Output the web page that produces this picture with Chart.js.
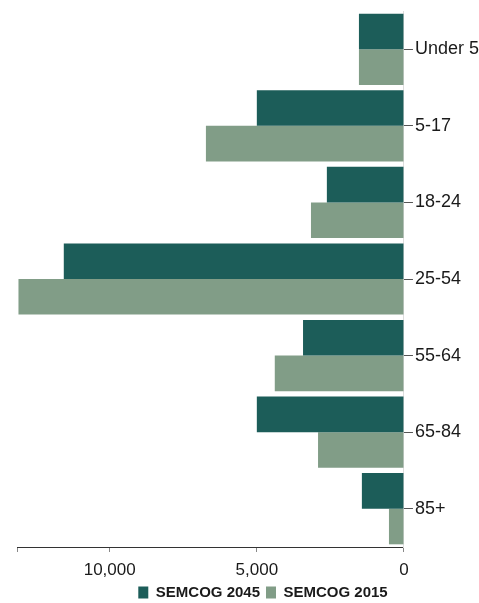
<!DOCTYPE html>
<html>
<head>
<meta charset="utf-8">
<script src="https://cdn.jsdelivr.net/npm/chart.js@4.4.1/dist/chart.umd.min.js"></script>
<style>
html,body{margin:0;padding:0;background:#fff;}
#wrap{width:479px;height:603px;position:relative;}
</style>
</head>
<body>
<div id="wrap"><canvas id="c"></canvas></div>
<script>
const categories = ["Under 5", "5-17", "18-24", "25-54", "55-64", "65-84", "85+"];
const semcog2045 = [1530, 5000, 2620, 11560, 3430, 5000, 1430];
const semcog2015 = [1530, 6730, 3160, 13100, 4390, 2920, 510];
const seriesNames = ["SEMCOG 2045", "SEMCOG 2015"];
const xTickValues = [0, 5000, 10000];

const FONT = "'Liberation Sans', Arial, sans-serif";

const legendShift = {
  id: 'legendShift',
  afterLayout(chart) {
    const lg = chart.legend;
    if (!lg) return;
    const dx = 14, dy = -10;
    lg.left += dx; lg.right += dx;
    lg.top += dy; lg.bottom += dy;
  }
};

new Chart(document.getElementById('c'), {
  type: 'bar',
  data: {
    labels: categories,
    datasets: [
      { label: seriesNames[0], data: semcog2045, backgroundColor: '#1c5d59', borderWidth: 0 },
      { label: seriesNames[1], data: semcog2015, backgroundColor: '#819d87', borderWidth: 0 }
    ]
  },
  options: {
    indexAxis: 'y',
    responsive: true,
    maintainAspectRatio: false,
    animation: false,
    layout: { padding: { top: 10, left: 17, right: -2, bottom: -17 } },
    datasets: { bar: { categoryPercentage: 0.93, barPercentage: 1.0 } },
    plugins: {
      tooltip: { enabled: false },
      legend: {
        position: 'bottom',
        labels: {
          font: { family: FONT, size: 15, weight: 'bold' },
          color: '#1a1a1a',
          boxWidth: 10,
          boxHeight: 12,
          padding: 6
        }
      }
    },
    scales: {
      x: {
        reverse: true,
        min: 0,
        max: 13150,
        afterBuildTicks(axis) {
          axis.ticks = xTickValues.map(v => ({ value: v })).concat([{ value: 13150 }]);
        },
        ticks: {
          font: { family: FONT, size: 17, lineHeight: 1 },
          color: '#1a1a1a',
          padding: 10,
          maxRotation: 0,
          callback: (v) => xTickValues.includes(v) ? v.toLocaleString('en-US') : ''
        },
        grid: { drawOnChartArea: false, tickLength: 5, color: '#888' },
        border: { display: true, color: '#333', width: 1 }
      },
      y: {
        position: 'right',
        ticks: {
          font: { family: FONT, size: 18, lineHeight: 1 },
          color: '#1a1a1a',
          padding: 2
        },
        grid: { drawOnChartArea: false, offset: false, tickLength: 9, color: '#555' },
        border: { display: true, color: '#ddd', width: 1 }
      }
    }
  },
  plugins: [legendShift]
});
</script>
</body>
</html>
